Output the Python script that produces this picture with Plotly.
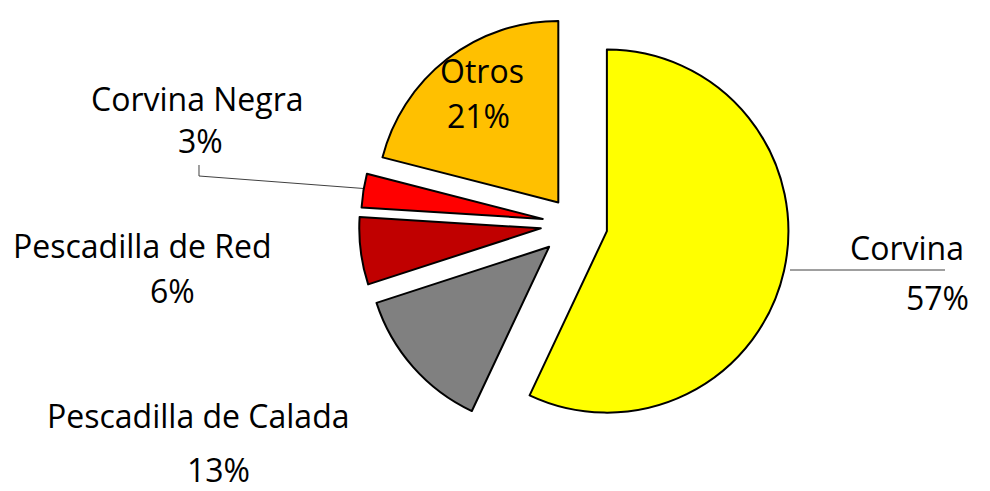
import plotly.graph_objects as go

# catch share by species
labels = ["Corvina", "Pescadilla de Calada", "Pescadilla de Red", "Corvina Negra", "Otros"]
values = [57, 13, 6, 3, 21]
colors = ["#FFFF00", "#808080", "#C00000", "#FF0000", "#FFC000"]
pulls = [0.18, 0.19, 0.19, 0.18, 0.15]

W, H = 990, 491
OFF = 8  # page body margin shifts the figure by this much
cx, cy, box = 575 - OFF, 224 - OFF, 432  # pie centre and box in pixels


def px(x):
    return (x - OFF) / W


def py(y):
    return 1 - (y - OFF) / H


fig = go.Figure(go.Pie(
    labels=labels,
    values=values,
    sort=False,
    direction="clockwise",
    rotation=0,
    pull=pulls,
    marker=dict(colors=colors, line=dict(color="black", width=2)),
    textinfo="none",
    hoverinfo="label+percent",
    showlegend=False,
    domain=dict(x=[(cx - box / 2) / W, (cx + box / 2) / W],
                y=[max(0, 1 - (cy + box / 2) / H), min(1, 1 - (cy - box / 2) / H)]),
))

# label positions (pixel centres of name line and percent line)
label_pos = {
    "Corvina": ((907, 247), (937, 297)),
    "Pescadilla de Calada": ((198, 415), (218, 469)),
    "Pescadilla de Red": ((142, 245), (172, 290)),
    "Corvina Negra": ((197, 98), (200, 140)),
    "Otros": ((482, 70), (478, 116)),
}
total = sum(values)
font = dict(family="Open Sans", size=32, color="black")
annotations = []
for lab, val in zip(labels, values):
    (nx, ny), (qx, qy) = label_pos[lab]
    annotations.append(dict(x=px(nx), y=py(ny), xref="paper", yref="paper",
                            xanchor="center", yanchor="middle",
                            text=lab, showarrow=False, font=font))
    annotations.append(dict(x=px(qx), y=py(qy), xref="paper", yref="paper",
                            xanchor="center", yanchor="middle",
                            text="%d%%" % round(100 * val / total), showarrow=False, font=font))

# leader lines
line = dict(color="#404040", width=1)
shapes = [
    dict(type="line", xref="paper", yref="paper", x0=px(790), y0=py(270),
         x1=px(945), y1=py(270), line=line, layer="below"),
    dict(type="path", xref="paper", yref="paper",
         path="M %f,%f L %f,%f L %f,%f" % (px(199), py(165), px(199), py(176),
                                           px(370), py(189)), line=line, layer="below"),
]

fig.update_layout(
    width=W, height=H,
    margin=dict(l=0, r=0, t=0, b=0),
    paper_bgcolor="white",
    annotations=annotations,
    shapes=shapes,
)

fig.write_html("out.html")
